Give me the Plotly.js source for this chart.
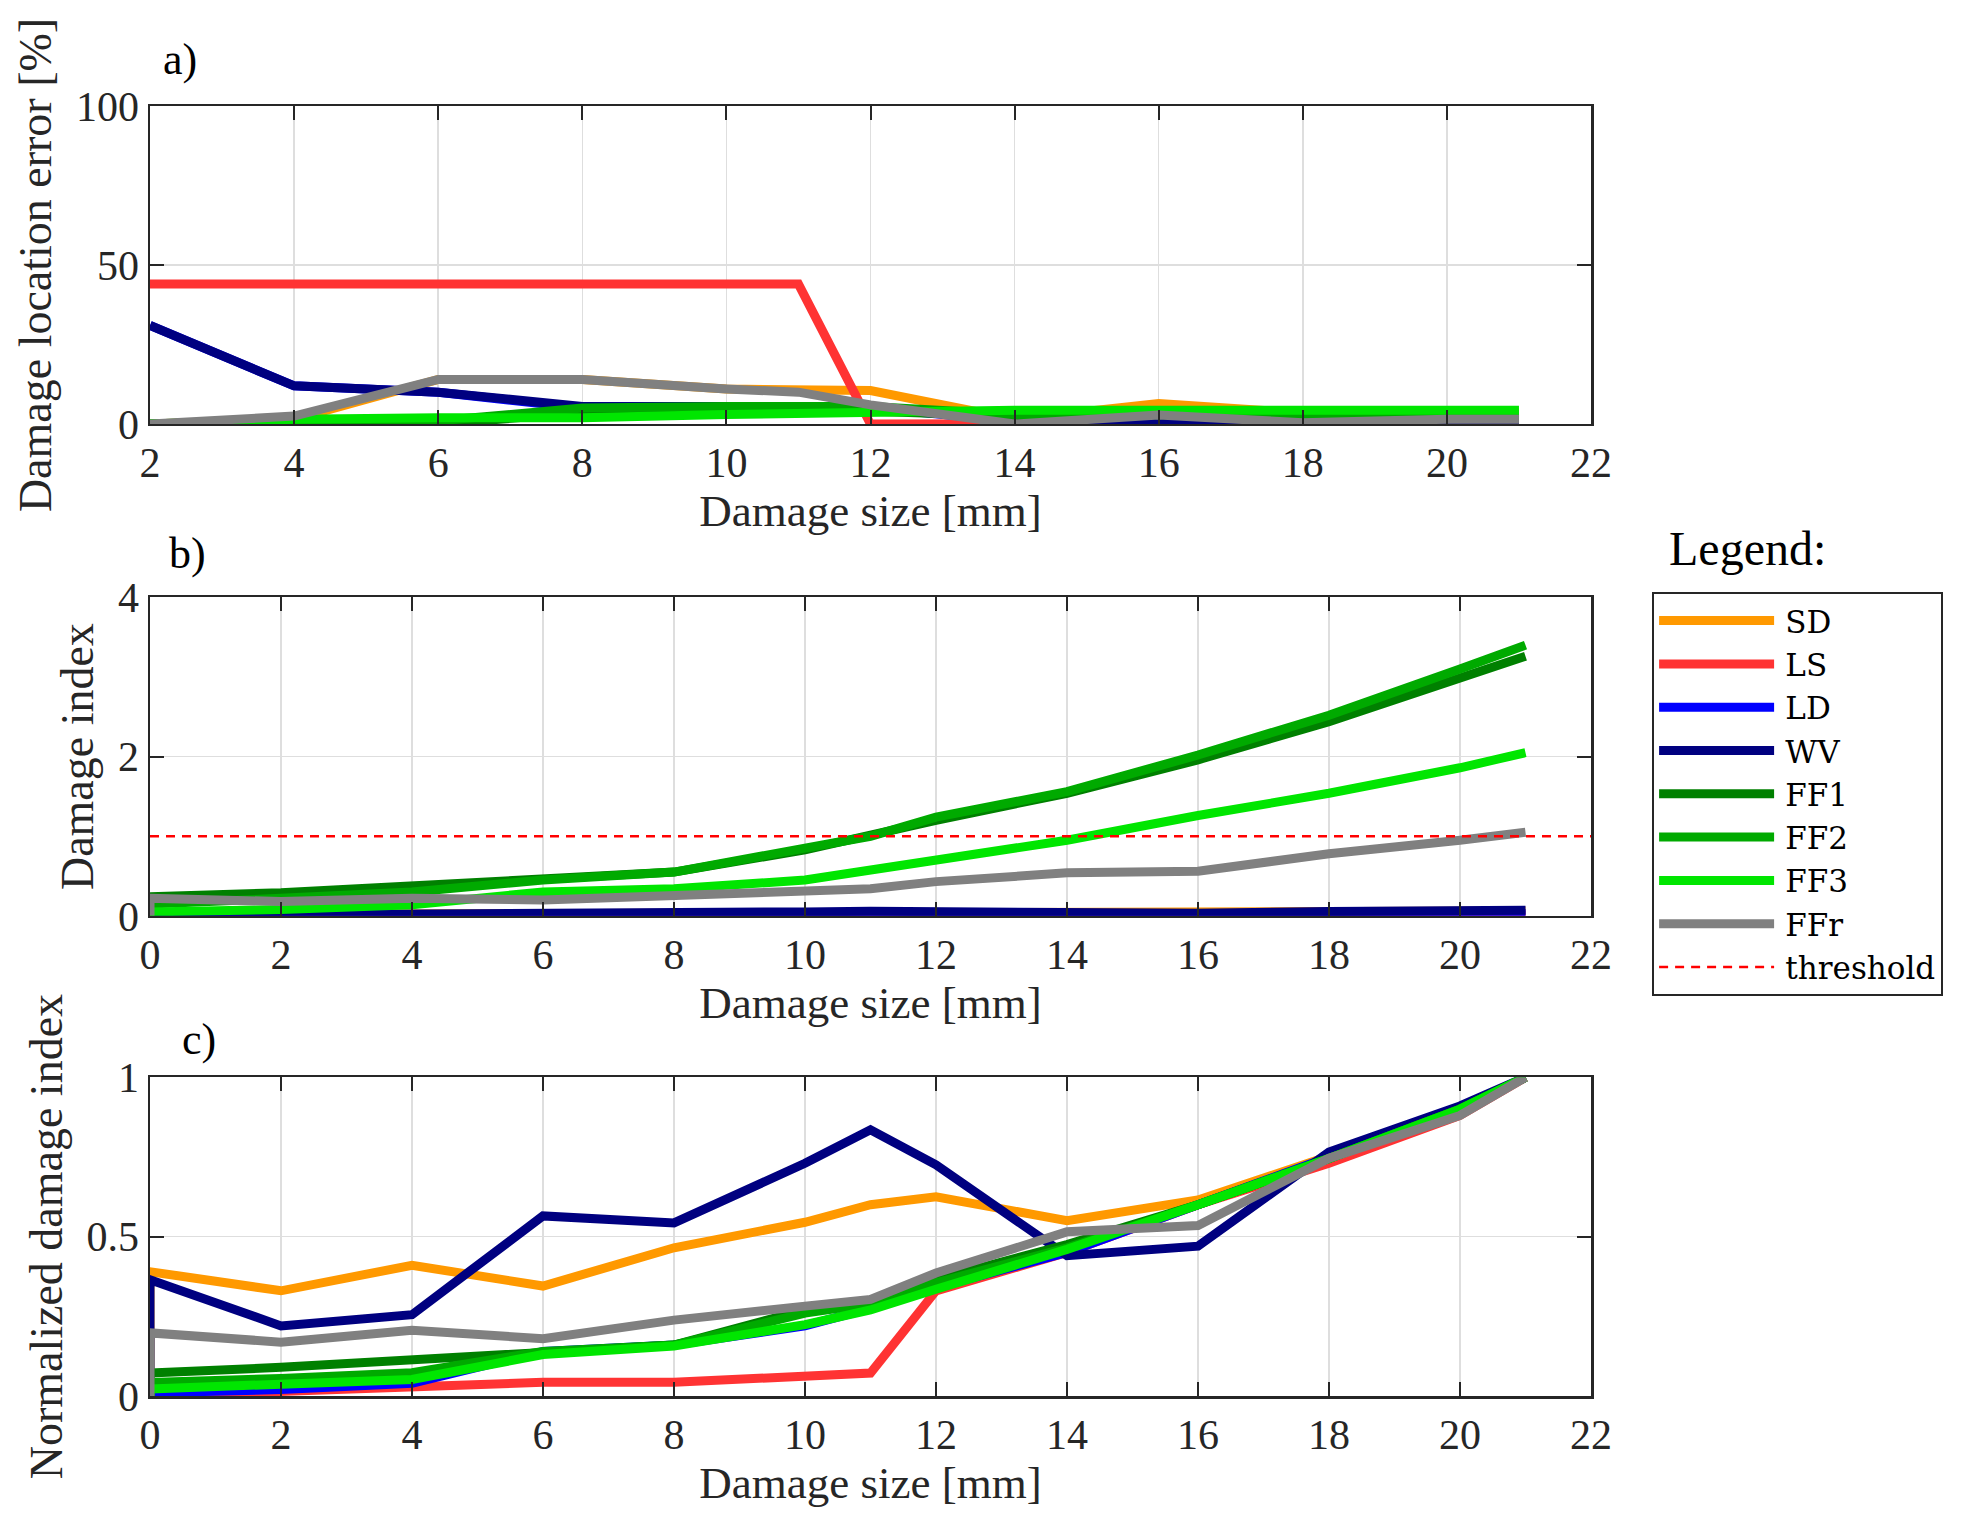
<!DOCTYPE html>
<html>
<head>
<meta charset="utf-8">
<script src="https://cdn.plot.ly/plotly-3.0.1.min.js"></script>
<style>
  html, body { margin: 0; padding: 0; background: #fff; }
  #chart { width: 1988px; height: 1529px; }
</style>
</head>
<body>
<div id="chart"></div>
<script>
// panel a) damage location error [%]
const xA = [2, 4, 6, 8, 10, 11, 12, 14, 16, 18, 20, 21];
const sdA  = [0, 1.5, 14, 14, 11, 10.5, 10.5, 1.5, 6.4, 3.5, 3.5, 3.5];
const lsA  = [44, 44, 44, 44, 44, 44, 0, 0, 0.5, 0, 0.5, 0.3];
const ldA  = [31, 12, 10, 5, 5, 5, 5, 1, 0.5, 0.5, 0.5, 0.5];
const wvA  = [31, 12, 10, 5.5, 5.5, 5.5, 5, 1.5, 0.6, 0.5, 0.5, 0.5];
const ff1A = [0, 1, 0, 3.5, 4, 4, 4, 2.5, 3, 2, 2.5, 2.5];
const ff2A = [0, 1, 1, 5, 5.5, 5.5, 5.5, 3, 3, 2.2, 3, 3];
const ff3A = [0, 1.5, 2, 2, 3, 3.5, 3.5, 4.3, 4.3, 4.3, 4.3, 4.3];
const ffrA = [0, 2.5, 14, 14, 11, 10, 6, 0, 2.8, 0.4, 1.5, 1.5];

// panels b) and c) start with the undamaged reference at 0
const xBC = [0, 0, 2, 4, 6, 8, 10, 11, 12, 14, 16, 18, 20, 21];

// panel b) damage index
const sdB  = [0, 0.023, 0.02, 0.025, 0.021, 0.028, 0.033, 0.036, 0.037, 0.033, 0.037, 0.045, 0.053, 0.06];
const lsB  = [0, 0, 0, 0, 0, 0, 0, 0, 0.003, 0.004, 0.006, 0.007, 0.009, 0.01];
const ldB  = [0, 0.001, 0.001, 0.001, 0.004, 0.005, 0.007, 0.008, 0.01, 0.014, 0.018, 0.023, 0.026, 0.03];
const wvB  = [0, 0.026, 0.015, 0.018, 0.04, 0.038, 0.05, 0.058, 0.05, 0.031, 0.033, 0.054, 0.063, 0.07];
const ff1B = [0, 0.24, 0.29, 0.37, 0.47, 0.55, 0.83, 1.02, 1.2, 1.54, 1.96, 2.44, 3.0, 3.26];
const ff2B = [0, 0.15, 0.22, 0.30, 0.45, 0.55, 0.85, 1.0, 1.24, 1.56, 2.02, 2.52, 3.1, 3.40];
const ff3B = [0, 0.05, 0.08, 0.14, 0.30, 0.34, 0.45, 0.58, 0.70, 0.95, 1.26, 1.54, 1.86, 2.05];
const ffrB = [0, 0.22, 0.18, 0.22, 0.2, 0.26, 0.30, 0.34, 0.43, 0.54, 0.56, 0.78, 0.95, 1.05];
const threshold = 1;

// panel c) normalized damage index
const sdC  = [0, 0.39, 0.33, 0.41, 0.345, 0.465, 0.545, 0.60, 0.625, 0.55, 0.615, 0.75, 0.89, 1];
const lsC  = [0, 0, 0.015, 0.03, 0.043, 0.043, 0.06, 0.072, 0.33, 0.45, 0.6, 0.73, 0.88, 1];
const ldC  = [0, 0.01, 0.02, 0.04, 0.14, 0.16, 0.22, 0.275, 0.34, 0.45, 0.6, 0.75, 0.9, 1];
const wvC  = [0, 0.365, 0.22, 0.255, 0.565, 0.543, 0.73, 0.835, 0.725, 0.44, 0.47, 0.765, 0.91, 1];
const ff1C = [0, 0.072, 0.09, 0.113, 0.136, 0.16, 0.27, 0.30, 0.365, 0.475, 0.6, 0.745, 0.9, 1];
const ff2C = [0, 0.042, 0.055, 0.073, 0.14, 0.16, 0.26, 0.29, 0.355, 0.465, 0.6, 0.745, 0.9, 1];
const ff3C = [0, 0.022, 0.037, 0.052, 0.13, 0.157, 0.224, 0.27, 0.335, 0.46, 0.6, 0.745, 0.9, 1];
const ffrC = [0, 0.198, 0.169, 0.206, 0.18, 0.238, 0.282, 0.303, 0.386, 0.515, 0.535, 0.746, 0.88, 1];

const names  = ["SD", "LS", "LD", "WV", "FF1", "FF2", "FF3", "FFr"];
const colors = ["#ff9900", "#ff3333", "#0000ff", "#000080", "#008000", "#00aa00", "#00e600", "#808080"];

const seriesA = [sdA, lsA, ldA, wvA, ff1A, ff2A, ff3A, ffrA];
const seriesB = [sdB, lsB, ldB, wvB, ff1B, ff2B, ff3B, ffrB];
const seriesC = [sdC, lsC, ldC, wvC, ff1C, ff2C, ff3C, ffrC];

const FONT = "Liberation Serif, Times New Roman, serif";
const INK = "#262626";

function panelTraces(xs, series, xa, ya, legend) {
    return series.map((ys, i) => ({
        x: xs,
        y: ys,
        xaxis: xa,
        yaxis: ya,
        name: "\u2009" + names[i],
        type: "scatter",
        mode: "lines",
        line: { color: colors[i], width: 9 },
        showlegend: legend,
        hoverinfo: "skip"
    }));
}

const xMax = 22;
const traces = [
    ...panelTraces(xA, seriesA, "x", "y", false),
    ...panelTraces(xBC, seriesB, "x2", "y2", true),
    {
        x: [0, xMax],
        y: [threshold, threshold],
        xaxis: "x2",
        yaxis: "y2",
        name: "\u2009threshold",
        type: "scatter",
        mode: "lines",
        line: { color: "#ff0000", width: 2.5, dash: "9px,7px" },
        hoverinfo: "skip"
    },
    ...panelTraces(xBC, seriesC, "x3", "y3", false)
];

function xaxis(range, anchor) {
    return {
        anchor: anchor,
        range: range,
        dtick: 2,
        tick0: 0,
        domain: [0, 1],
        showgrid: true,
        gridcolor: "#dedede",
        gridwidth: 1.5,
        zeroline: false,
        showline: true,
        linecolor: INK,
        linewidth: 2.5,
        mirror: "ticks",
        ticks: "inside",
        ticklen: 14,
        tickwidth: 2,
        tickcolor: INK,
        tickfont: { family: FONT, size: 42, color: INK },
        title: { text: "Damage size [mm]", font: { family: FONT, size: 45, color: INK }, standoff: 8 }
    };
}

function yaxis(range, tickvals, ticktext, domain, anchor, title) {
    return {
        anchor: anchor,
        range: range,
        domain: domain,
        tickvals: tickvals,
        ticktext: ticktext,
        showgrid: true,
        gridcolor: "#dedede",
        gridwidth: 1.5,
        zeroline: false,
        showline: true,
        linecolor: INK,
        linewidth: 2.5,
        mirror: "ticks",
        ticks: "inside",
        ticklen: 14,
        tickwidth: 2,
        tickcolor: INK,
        tickfont: { family: FONT, size: 42, color: INK },
        title: { text: title, font: { family: FONT, size: 46, color: INK }, standoff: 10 }
    };
}

const layout = {
    width: 1988,
    height: 1529,
    autosize: false,
    margin: { l: 150, r: 397, t: 106, b: 133 },
    paper_bgcolor: "#ffffff",
    plot_bgcolor: "#ffffff",
    xaxis:  xaxis([2, 22], "y"),
    yaxis:  yaxis([0, 100], [0, 50, 100], ["0", "50", "100"], [0.7535, 1.0], "x", "Damage location error [%]"),
    xaxis2: xaxis([0, 22], "y2"),
    yaxis2: yaxis([0, 4], [0, 2, 4], ["0", "2", "4"], [0.3722, 0.6191], "x2", "Damage index"),
    xaxis3: xaxis([0, 22], "y3"),
    yaxis3: yaxis([0, 1], [0, 0.5, 1], ["0", "0.5", "1"], [0, 0.2471], "x3", "Normalized damage index"),
    showlegend: true,
    legend: {
        x: 1.0424,
        y: 0.6233,
        xanchor: "left",
        yanchor: "top",
        bgcolor: "#ffffff",
        bordercolor: INK,
        borderwidth: 2,
        itemwidth: 115,
        font: { family: "DejaVu Serif, serif", size: 31, color: "#000000" },
        tracegroupgap: 0
    },
    annotations: [
        { text: "Legend:", xref: "paper", yref: "paper", x: 1.0528, y: 0.657, xanchor: "left", yanchor: "middle",
          showarrow: false, font: { family: FONT, size: 48, color: "#000000" } },
        { text: "a)", xref: "paper", yref: "paper", x: 0.0208, y: 1.036, xanchor: "center", yanchor: "middle",
          showarrow: false, font: { family: FONT, size: 44, color: "#000000" } },
        { text: "b)", xref: "paper", yref: "paper", x: 0.0257, y: 0.653, xanchor: "center", yanchor: "middle",
          showarrow: false, font: { family: FONT, size: 44, color: "#000000" } },
        { text: "c)", xref: "paper", yref: "paper", x: 0.034, y: 0.276, xanchor: "center", yanchor: "middle",
          showarrow: false, font: { family: FONT, size: 44, color: "#000000" } }
    ]
};

Plotly.newPlot("chart", traces, layout, { displayModeBar: false, staticPlot: true });
</script>
</body>
</html>
